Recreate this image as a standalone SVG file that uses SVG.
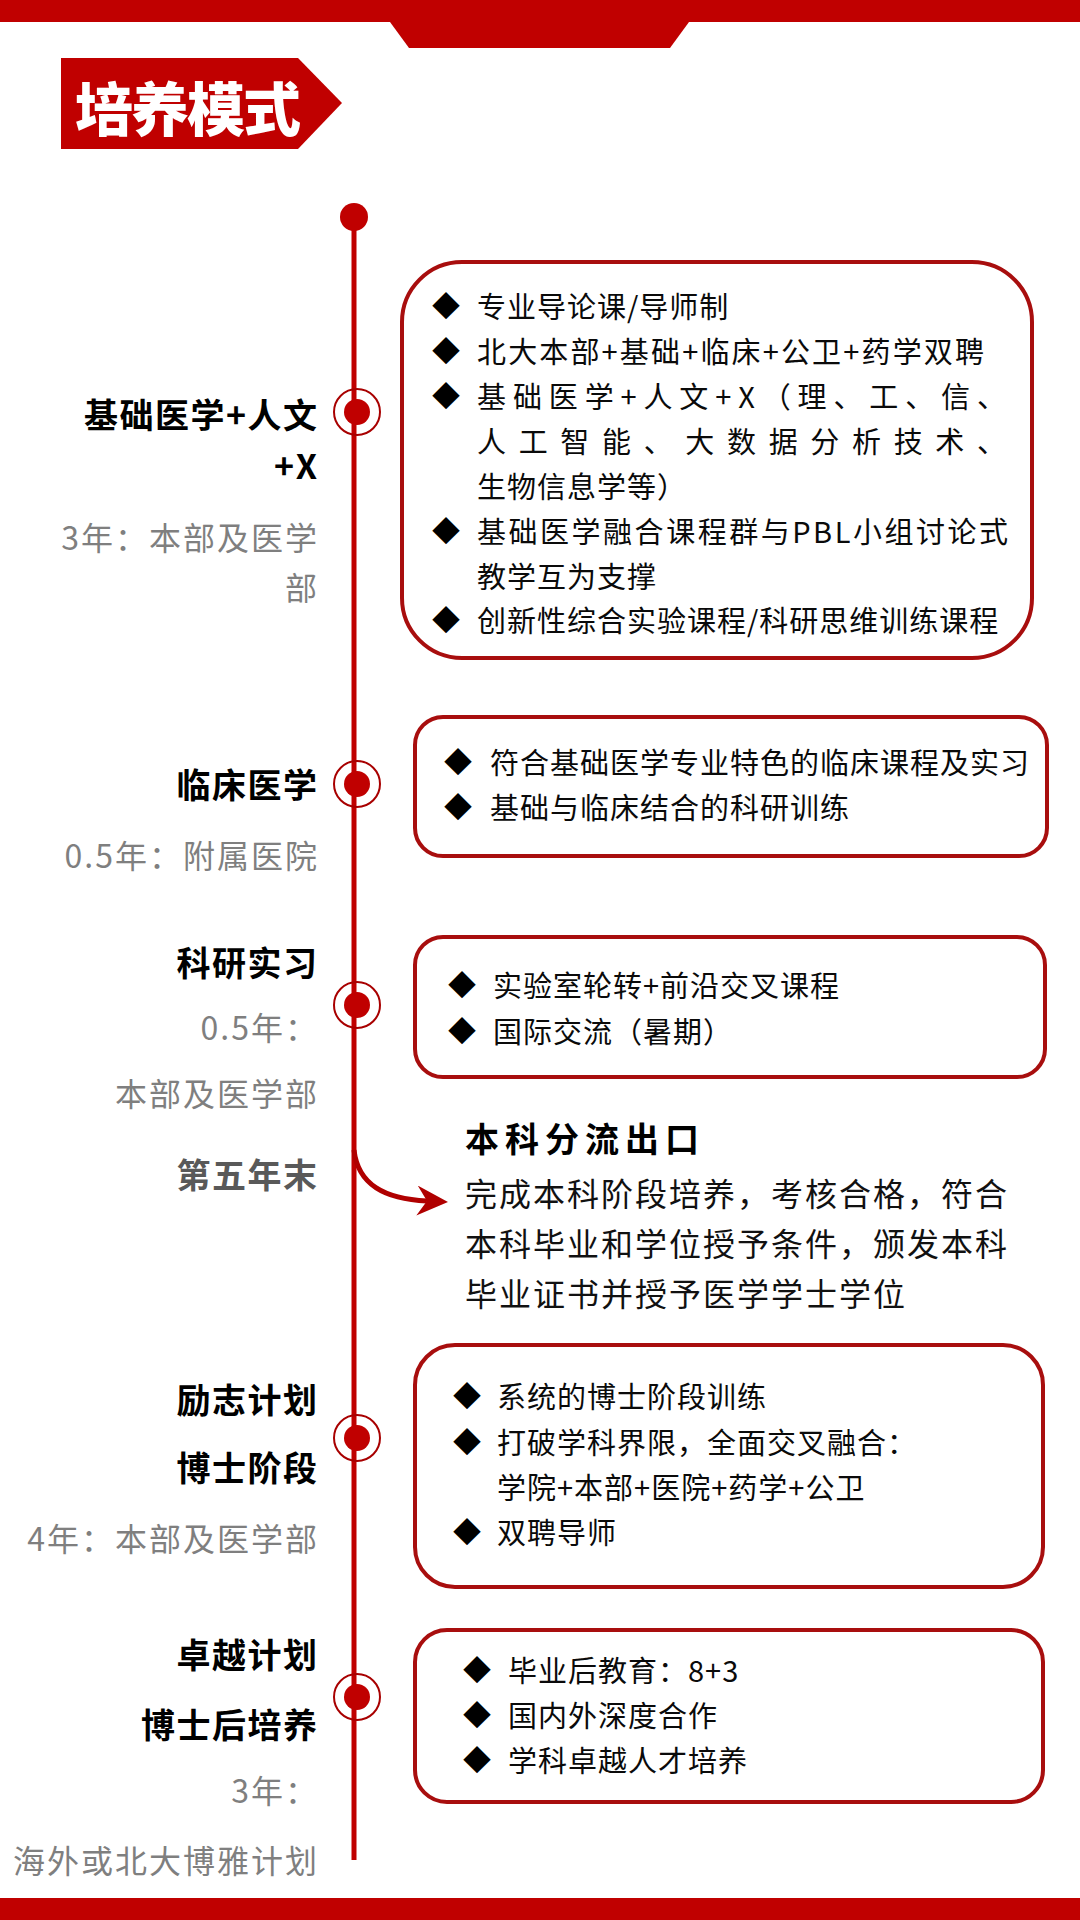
<svg xmlns="http://www.w3.org/2000/svg" width="1080" height="1920" viewBox="0 0 1080 1920">
<defs>
<style>
text{font-family:"Noto Sans CJK SC","Noto Sans",sans-serif;}
.red{fill:#c00000;}
.box{fill:#fff;stroke:#a80e0e;stroke-width:4;}
.lbl{font-size:34px;font-weight:700;fill:#000;text-anchor:end;letter-spacing:1.5px;}
.sub{font-size:32px;fill:#7f7f7f;text-anchor:end;letter-spacing:2px;}
.bt{font-size:29px;fill:#0a0a0a;letter-spacing:1px;}
.dia{font-size:28px;fill:#000;}
.ring{fill:none;stroke:#a80000;stroke-width:2;}
.dot{fill:#c00000;}
.body{font-size:32px;fill:#111;letter-spacing:2px;}
</style>
<marker id="ah" markerUnits="userSpaceOnUse" viewBox="0 0 32 30" refX="10" refY="15" markerWidth="32" markerHeight="30" orient="auto">
<path d="M0,0 L31,15 L0,30 L10,15 Z" fill="#b00000"/>
</marker>
</defs>
<rect width="1080" height="1920" fill="#fff"/>
<!-- top / bottom decorations -->
<rect x="0" y="0" width="1080" height="22" class="red"/>
<polygon points="390,0 689,0 689,22 670,48 409,48 390,22" class="red"/>
<rect x="0" y="1898" width="1080" height="22" class="red"/>
<!-- title -->
<g id="title">
<polygon points="61,58 298,58 342,103 298,149 61,149" class="red"/>
<text x="75" y="131" font-size="58" font-weight="900" fill="#fff" letter-spacing="-2">培养模式</text>
</g>
<!-- connectors -->
<g id="connectors">
<line x1="354" y1="217" x2="354" y2="1860" stroke="#c00000" stroke-width="5"/>
<circle cx="354" cy="217" r="14" class="red"/>
<path d="M354,1150 C358,1185 385,1199 427,1201" fill="none" stroke="#b00000" stroke-width="5" marker-end="url(#ah)"/>
</g>
<!-- stage 1 -->
<g id="stage1">
<circle cx="357" cy="412" r="23" class="ring"/>
<circle cx="357" cy="412" r="13" class="dot"/>
<text x="318.5" y="428" class="lbl">基础医学+人文</text>
<text x="318.5" y="479" class="lbl">+X</text>
<text x="319" y="550" class="sub">3年：本部及医学</text>
<text x="319" y="600" class="sub">部</text>
<rect x="402" y="262" width="630" height="396" rx="60" class="box"/>
<text x="432" y="317" class="dia">◆</text><text x="477" y="318" class="bt">专业导论课/导师制</text>
<text x="432" y="362" class="dia">◆</text><text x="477" y="363" class="bt" textLength="508">北大本部+基础+临床+公卫+药学双聘</text>
<text x="432" y="407" class="dia">◆</text><text x="477" y="408" class="bt" textLength="530">基础医学+人文+X（理、工、信、</text>
<text x="477" y="453" class="bt" textLength="530">人工智能、大数据分析技术、</text>
<text x="477" y="498" class="bt">生物信息学等）</text>
<text x="432" y="542" class="dia">◆</text><text x="477" y="543" class="bt" textLength="532">基础医学融合课程群与PBL小组讨论式</text>
<text x="477" y="588" class="bt">教学互为支撑</text>
<text x="432" y="631" class="dia">◆</text><text x="477" y="632" class="bt">创新性综合实验课程/科研思维训练课程</text>
</g>
<!-- stage 2 -->
<g id="stage2">
<circle cx="357" cy="784" r="23" class="ring"/>
<circle cx="357" cy="784" r="13" class="dot"/>
<text x="318.5" y="798" class="lbl">临床医学</text>
<text x="319" y="868" class="sub">0.5年：附属医院</text>
<rect x="415" y="717" width="632" height="139" rx="28" class="box"/>
<text x="444" y="773" class="dia">◆</text><text x="490" y="774" class="bt">符合基础医学专业特色的临床课程及实习</text>
<text x="444" y="818" class="dia">◆</text><text x="490" y="819" class="bt">基础与临床结合的科研训练</text>
</g>
<!-- stage 3 -->
<g id="stage3">
<circle cx="357" cy="1005" r="23" class="ring"/>
<circle cx="357" cy="1005" r="13" class="dot"/>
<text x="318.5" y="976" class="lbl">科研实习</text>
<text x="319" y="1040" class="sub">0.5年：</text>
<text x="319" y="1106" class="sub">本部及医学部</text>
<rect x="415" y="937" width="630" height="140" rx="28" class="box"/>
<text x="448" y="996" class="dia">◆</text><text x="493" y="997" class="bt">实验室轮转+前沿交叉课程</text>
<text x="448" y="1042" class="dia">◆</text><text x="493" y="1043" class="bt">国际交流（暑期）</text>
</g>
<!-- exit -->
<g id="exit">
<text x="318.5" y="1188" class="lbl" style="fill:#595959">第五年末</text>
<text x="465" y="1152" font-size="34" font-weight="700" fill="#000" letter-spacing="6">本科分流出口</text>
<text x="465" y="1206" class="body">完成本科阶段培养，考核合格，符合</text>
<text x="465" y="1256" class="body">本科毕业和学位授予条件，颁发本科</text>
<text x="465" y="1306" class="body">毕业证书并授予医学学士学位</text>
</g>
<!-- stage 4 -->
<g id="stage4">
<circle cx="357" cy="1438" r="23" class="ring"/>
<circle cx="357" cy="1438" r="13" class="dot"/>
<text x="318.5" y="1413" class="lbl">励志计划</text>
<text x="318.5" y="1481" class="lbl">博士阶段</text>
<text x="319" y="1551" class="sub">4年：本部及医学部</text>
<rect x="415" y="1345" width="628" height="242" rx="40" class="box"/>
<text x="453" y="1407" class="dia">◆</text><text x="497" y="1408" class="bt">系统的博士阶段训练</text>
<text x="453" y="1453" class="dia">◆</text><text x="497" y="1454" class="bt">打破学科界限，全面交叉融合：</text>
<text x="497" y="1499" class="bt" letter-spacing="0">学院+本部+医院+药学+公卫</text>
<text x="453" y="1543" class="dia">◆</text><text x="497" y="1544" class="bt">双聘导师</text>
</g>
<!-- stage 5 -->
<g id="stage5">
<circle cx="357" cy="1697" r="23" class="ring"/>
<circle cx="357" cy="1697" r="13" class="dot"/>
<text x="318.5" y="1668" class="lbl">卓越计划</text>
<text x="318.5" y="1738" class="lbl">博士后培养</text>
<text x="319" y="1803" class="sub">3年：</text>
<text x="319" y="1873" class="sub">海外或北大博雅计划</text>
<rect x="415" y="1630" width="628" height="172" rx="32" class="box"/>
<text x="463" y="1681" class="dia">◆</text><text x="508" y="1682" class="bt">毕业后教育：8+3</text>
<text x="463" y="1726" class="dia">◆</text><text x="508" y="1727" class="bt">国内外深度合作</text>
<text x="463" y="1771" class="dia">◆</text><text x="508" y="1772" class="bt">学科卓越人才培养</text>
</g>
</svg>
